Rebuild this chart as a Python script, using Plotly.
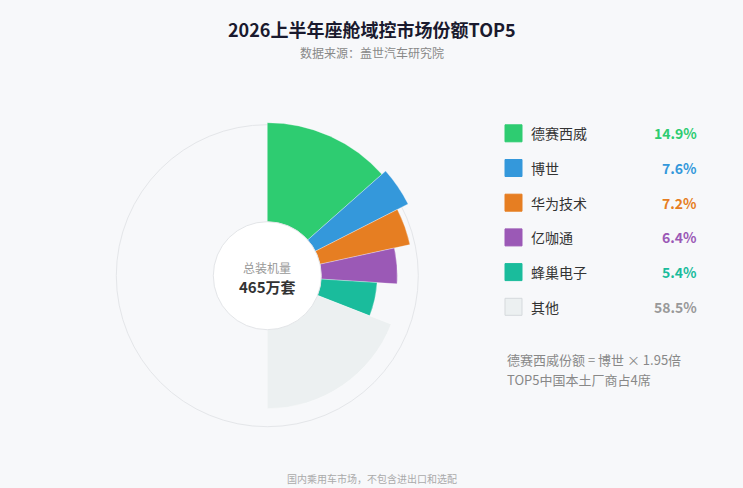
import numpy as np
import plotly.graph_objects as go

# 数据
companies = ['德赛西威', '博世', '华为技术', '亿咖通', '蜂巢电子', '其他']
shares = [14.9, 7.6, 7.2, 6.4, 5.4, 58.5]
colors = ['#2ecc71', '#3498db', '#e67e22', '#9b59b6', '#1abc9c', '#ecf0f1']
pct_colors = ['#2ecc71', '#3498db', '#e67e22', '#9b59b6', '#1abc9c', '#999999']
# 玫瑰图扇区：角度跨度与半径
rose_span = [48.5, 14.5, 14.7, 15.9, 17.8, 68.6]
rose_radius = [153, 158, 146, 130, 110, 133]

total_units = '465万套'
notes = ['德赛西威份额 = 博世 × 1.95倍', 'TOP5中国本土厂商占4席']

W, H = 743, 488
FONT = 'Noto Sans CJK SC'
BG = '#f7f8fa'

# 扇区中心角
starts = np.concatenate([[0], np.cumsum(rose_span)[:-1]])
centers = starts + np.array(rose_span) / 2

fig = go.Figure()
fig.add_trace(go.Barpolar(
    r=rose_radius, theta=centers, width=rose_span,
    marker=dict(color=colors, line=dict(color='rgba(255,255,255,0.6)', width=0.5)),
    text=companies, hoverinfo='text', showlegend=False,
))

# 极坐标区域（中心约在 267,276，外圈半径 151）
cx, cy, R = 267.3, 275.7, 165
fig.update_layout(
    polar=dict(
        domain=dict(x=[(cx - R) / W, (cx + R) / W],
                    y=[(H - cy - R) / H, (H - cy + R) / H]),
        bgcolor='rgba(0,0,0,0)',
        radialaxis=dict(range=[0, R], tickvals=[151], showticklabels=False, ticks='',
                        showline=False, gridcolor='#e4e6e9', gridwidth=1,
                        layer='below traces'),
        angularaxis=dict(rotation=90, direction='clockwise', showline=False,
                         showgrid=False, showticklabels=False, ticks='',
                         layer='below traces'),
    ),
    width=W, height=H,
    margin=dict(l=0, r=0, t=0, b=0),
    paper_bgcolor=BG, plot_bgcolor=BG,
    font=dict(family=FONT),
)


def px(x):
    return x / W


def py(y):
    return 1 - y / H


shapes = []
annotations = []

# 中心白圆
hole = 54
shapes.append(dict(type='circle', xref='paper', yref='paper',
                   x0=px(cx - hole), x1=px(cx + hole),
                   y0=py(cy + hole), y1=py(cy - hole),
                   fillcolor='white', line=dict(color='#e3e5e8', width=1), layer='above'))
annotations.append(dict(x=px(cx), y=py(267), text='总装机量', showarrow=False,
                        font=dict(size=12, color='#999999', family=FONT),
                        xanchor='center', yanchor='middle'))
annotations.append(dict(x=px(cx), y=py(286), text='<b>' + total_units + '</b>', showarrow=False,
                        font=dict(size=15, color='#333333', family=FONT),
                        xanchor='center', yanchor='middle'))

# 标题
annotations.append(dict(x=0.5, y=py(29), text='<b>2026上半年座舱域控市场份额TOP5</b>',
                        showarrow=False, font=dict(size=18, color='#1a1a2e', family=FONT),
                        xanchor='center', yanchor='middle'))
annotations.append(dict(x=0.5, y=py(52), text='数据来源：盖世汽车研究院',
                        showarrow=False, font=dict(size=12, color='#888888', family=FONT),
                        xanchor='center', yanchor='middle'))
annotations.append(dict(x=0.5, y=py(478), text='国内乘用车市场，不包含进出口和选配',
                        showarrow=False, font=dict(size=10, color='#aaaaaa', family=FONT),
                        xanchor='center', yanchor='middle'))

# 图例
row0, gap = 133.3, 34.7
for i, (name, s) in enumerate(zip(companies, shares)):
    yc = row0 + i * gap
    border = '#d5d9dc' if name == '其他' else colors[i]
    shapes.append(dict(type='rect', xref='paper', yref='paper',
                       x0=px(505), x1=px(522), y0=py(yc + 8.5), y1=py(yc - 8.5),
                       fillcolor=colors[i], line=dict(color=border, width=1)))
    annotations.append(dict(x=px(529), y=py(yc), text=name, showarrow=False,
                            font=dict(size=14, color='#333333', family=FONT),
                            xanchor='left', yanchor='middle'))
    annotations.append(dict(x=px(699), y=py(yc), text='<b>%.1f%%</b>' % s, showarrow=False,
                            font=dict(size=14, color=pct_colors[i], family=FONT),
                            xanchor='right', yanchor='middle'))

for j, t in enumerate(notes):
    annotations.append(dict(x=px(505), y=py(359 + j * 20), text=t, showarrow=False,
                            font=dict(size=13, color='#888888', family=FONT),
                            xanchor='left', yanchor='middle'))

fig.update_layout(shapes=shapes, annotations=annotations)

# 去掉页面默认边距，让图表贴满窗口
fig.write_html("out.html", config={'displayModeBar': False},
               post_script="document.body.style.margin='0';"
                           "document.body.style.overflow='hidden';")
